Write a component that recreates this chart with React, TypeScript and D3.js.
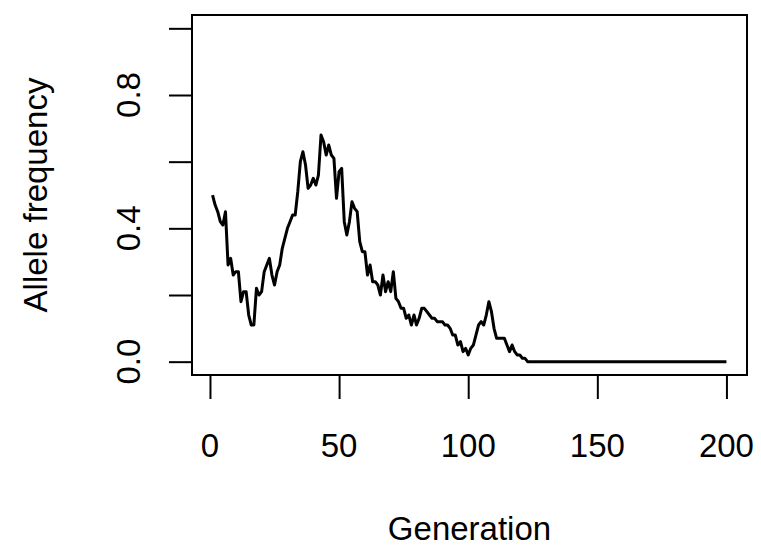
import React, { useEffect, useRef } from 'react';
import * as d3 from 'd3';

// allele frequency per generation (1..200)
const freq: number[] = [
  0.50, 0.47, 0.45, 0.42, 0.41, 0.45, 0.29, 0.31, 0.26, 0.27,
  0.27, 0.18, 0.21, 0.21, 0.14, 0.11, 0.11, 0.22, 0.20, 0.21,
  0.27, 0.29, 0.31, 0.26, 0.23, 0.27, 0.29, 0.34, 0.37, 0.40,
  0.42, 0.44, 0.44, 0.51, 0.60, 0.63, 0.59, 0.52, 0.53, 0.55,
  0.53, 0.56, 0.68, 0.66, 0.62, 0.65, 0.62, 0.61, 0.49, 0.57,
  0.58, 0.42, 0.38, 0.42, 0.48, 0.46, 0.45, 0.36, 0.33, 0.33,
  0.26, 0.29, 0.24, 0.24, 0.23, 0.20, 0.26, 0.21, 0.24, 0.21,
  0.27, 0.19, 0.18, 0.16, 0.16, 0.13, 0.14, 0.11, 0.14, 0.11,
  0.13, 0.16, 0.16, 0.15, 0.14, 0.13, 0.13, 0.12, 0.12, 0.12,
  0.11, 0.11, 0.10, 0.08, 0.08, 0.05, 0.06, 0.03, 0.04, 0.02,
  0.04, 0.05, 0.08, 0.11, 0.12, 0.11, 0.14, 0.18, 0.15, 0.10,
  0.07, 0.07, 0.07, 0.07, 0.05, 0.03, 0.05, 0.03, 0.02, 0.02,
  0.01, 0.01, 0, 0, 0, 0, 0, 0, 0, 0,
  0, 0, 0, 0, 0, 0, 0, 0, 0, 0,
  0, 0, 0, 0, 0, 0, 0, 0, 0, 0,
  0, 0, 0, 0, 0, 0, 0, 0, 0, 0,
  0, 0, 0, 0, 0, 0, 0, 0, 0, 0,
  0, 0, 0, 0, 0, 0, 0, 0, 0, 0,
  0, 0, 0, 0, 0, 0, 0, 0, 0, 0,
  0, 0, 0, 0, 0, 0, 0, 0, 0, 0,
];

const xTicks = [0, 50, 100, 150, 200];
const yTicks = [0, 0.2, 0.4, 0.6, 0.8, 1.0];
const yLabelTicks = [0, 0.4, 0.8];

const FONT = '"Liberation Sans", Arial, Helvetica, sans-serif';

export default function App() {
  const ref = useRef<SVGSVGElement>(null);

  useEffect(() => {
    const svg = d3.select(ref.current);
    svg.selectAll('*').remove();

    const box = { left: 192, right: 747, top: 15, bottom: 375 };
    const n = freq.length;
    const padX = 0.04 * (n - 1);

    const x = d3.scaleLinear()
      .domain([1 - padX, n + padX])
      .range([box.left, box.right]);
    const y = d3.scaleLinear()
      .domain([-0.04, 1.04])
      .range([box.bottom, box.top]);

    const data = freq.map((v, i) => ({ gen: i + 1, value: v }));

    svg.append('path')
      .datum(data)
      .attr('fill', 'none')
      .attr('stroke', '#000')
      .attr('stroke-width', 3)
      .attr('stroke-linejoin', 'round')
      .attr('d', d3.line<{ gen: number; value: number }>()
        .x(d => x(d.gen))
        .y(d => y(d.value)));

    // plot box
    svg.append('rect')
      .attr('x', box.left)
      .attr('y', box.top)
      .attr('width', box.right - box.left)
      .attr('height', box.bottom - box.top)
      .attr('fill', 'none')
      .attr('stroke', '#000')
      .attr('stroke-width', 2);

    const xAxis = svg.append('g')
      .attr('transform', 'translate(0,' + box.bottom + ')')
      .call(d3.axisBottom(x).tickValues(xTicks).tickSize(24).tickSizeOuter(0).tickFormat(() => ''));
    const yAxis = svg.append('g')
      .attr('transform', 'translate(' + box.left + ',0)')
      .call(d3.axisLeft(y).tickValues(yTicks).tickSize(23).tickSizeOuter(0).tickFormat(() => ''));
    [xAxis, yAxis].forEach(g => {
      g.select('.domain').remove();
      g.selectAll('line').attr('stroke', '#000').attr('stroke-width', 2);
    });

    svg.append('g')
      .selectAll('text')
      .data(xTicks)
      .enter()
      .append('text')
      .attr('x', d => x(d))
      .attr('y', 457)
      .attr('text-anchor', 'middle')
      .attr('font-family', FONT)
      .attr('font-size', 33)
      .text(d => String(d));

    svg.append('g')
      .selectAll('text')
      .data(yLabelTicks)
      .enter()
      .append('text')
      .attr('transform', d => 'translate(140,' + y(d) + ') rotate(-90)')
      .attr('text-anchor', 'middle')
      .attr('font-family', FONT)
      .attr('font-size', 33)
      .text(d => d.toFixed(1));

    svg.append('text')
      .attr('x', (box.left + box.right) / 2)
      .attr('y', 540)
      .attr('text-anchor', 'middle')
      .attr('font-family', FONT)
      .attr('font-size', 33)
      .text('Generation');

    svg.append('text')
      .attr('transform', 'translate(47,' + (box.top + box.bottom) / 2 + ') rotate(-90)')
      .attr('text-anchor', 'middle')
      .attr('font-family', FONT)
      .attr('font-size', 33)
      .text('Allele frequency');
  }, []);

  return (
    <svg
      ref={ref}
      width={761}
      height={550}
      style={{ position: 'absolute', left: 0, top: 0, background: '#fff' }}
    />
  );
}
